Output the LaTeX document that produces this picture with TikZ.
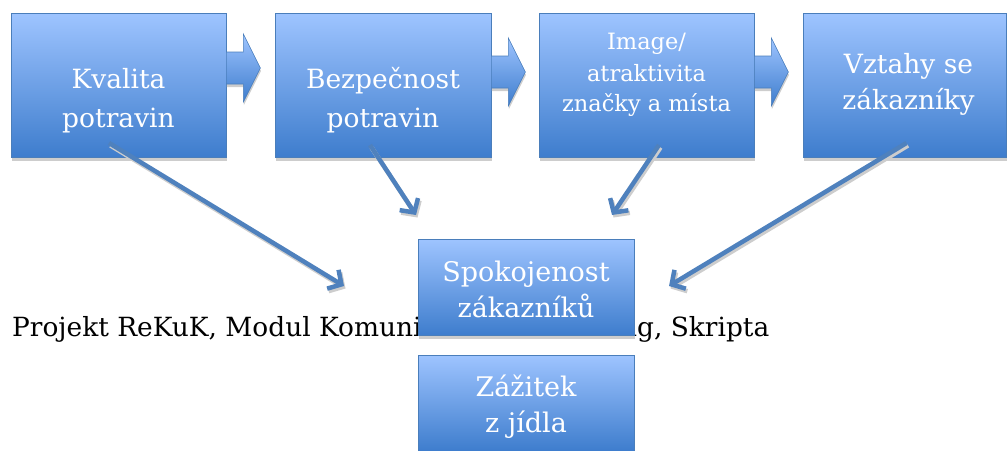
\documentclass[tikz,border=0pt]{standalone}
\usepackage{fontspec}
\setmainfont{DejaVu Serif}
\usetikzlibrary{arrows.meta,calc,shadows}
\definecolor{boxtop}{RGB}{158,196,255}
\definecolor{boxbot}{RGB}{62,125,205}
\definecolor{boxline}{RGB}{74,126,187}
\definecolor{arrowblue}{RGB}{79,129,189}
\definecolor{shadowgray}{RGB}{205,205,205}
\begin{document}
\begin{tikzpicture}[x=1pt,y=-1pt,
  box/.style={draw=boxline, line width=0.8pt, top color=boxtop, bottom color=boxbot,
    inner sep=0pt, minimum height=144pt,
    drop shadow={shadow xshift=1pt, shadow yshift=-3.5pt, fill=shadowgray, opacity=1}},
  smallbox/.style={box, minimum width=216pt, minimum height=96pt},
  ln/.style={text=white, anchor=base, inner sep=0pt, font=\fontsize{26.5}{26.5}\selectfont},
  lnsmall/.style={ln, font=\fontsize{22.5}{22.5}\selectfont},
  lnmid/.style={ln, font=\fontsize{27}{27}\selectfont},
  barrow/.style={draw=boxline, line width=0.6pt, top color=boxtop, bottom color=boxbot,
    drop shadow={shadow xshift=0.5pt, shadow yshift=-3pt, fill=shadowgray, opacity=1}},
  diag/.style={draw=arrowblue, line width=4.5pt, -{Straight Barb[length=10pt,width=22pt]}},
  diagshadow/.style={diag, draw=shadowgray, transform canvas={xshift=1.5pt,yshift=-2.5pt}},
  captext/.style={anchor=base west, inner sep=0pt, text=black, font=\fontsize{26.4}{26.4}\selectfont}
]
\useasboundingbox (0,0) rectangle (1008,450);

% caption text (partly hidden behind the box)
\node[captext] (cap) at (12,336) {Projekt ReKuK, Modul Komunikace a marketing, Skripta};

% top row boxes
\node[box, minimum width=215pt] (k1) at (118.5,85) {};
\node[box, minimum width=216pt] (k2) at (383,85) {};
\node[box, minimum width=215pt] (k3) at (646.5,85) {};
\node[box, minimum width=203pt] (k4) at (904.5,85) {};

% block arrows
\path[barrow] ($(k1.east)+(0,-17)$) ++(0,-16) -- ++(17,0) -- ++(0,-18) -- ++(17,34) -- ++(-17,34) -- ++(0,-18) -- ++(-17,0) -- cycle;
\path[barrow] ($(k2.east)+(0,-13)$) ++(0,-16) -- ++(17,0) -- ++(0,-18) -- ++(17,34) -- ++(-17,34) -- ++(0,-18) -- ++(-17,0) -- cycle;
\path[barrow] ($(k3.east)+(0,-13)$) ++(0,-16) -- ++(17,0) -- ++(0,-18) -- ++(17,34) -- ++(-17,34) -- ++(0,-18) -- ++(-17,0) -- cycle;

% texts in top boxes
\node[ln] (t1a) at ($(k1.north)+(0,76)$) {Kvalita};
\node[ln] (t1b) at ($(k1.north)+(0,115)$) {potravin};
\node[ln] (t2a) at ($(k2.north)+(0,76)$) {Bezpečnost};
\node[ln] (t2b) at ($(k2.north)+(0,115)$) {potravin};
\node[lnsmall] (t3a) at ($(k3.north)+(0,37)$) {Image/};
\node[lnsmall] (t3b) at ($(k3.north)+(0,69)$) {atraktivita};
\node[lnsmall] (t3c) at ($(k3.north)+(0,99)$) {značky a místa};
\node[ln] (t4a) at ($(k4.north)+(4,61)$) {Vztahy se};
\node[ln] (t4b) at ($(k4.north)+(4,97)$) {zákazníky};

% lower boxes
\node[smallbox] (s) at (526,287) {};
\node[lnmid] (sa) at ($(s.north)+(0,43)$) {Spokojenost};
\node[lnmid] (sb) at ($(s.north)+(0,79)$) {zákazníků};
\node[smallbox] (z) at (526,403) {};
\node[lnmid] (za) at ($(z.north)+(0,42)$) {Zážitek};
\node[lnmid] (zb) at ($(z.north)+(0,78)$) {z jídla};

% diagonal arrows
\coordinate (a1s) at ($(k1)+(-9.5,58)$);
\coordinate (a1e) at ($(s)+(-182,-1)$);
\coordinate (a2s) at ($(k2)+(-13,60)$);
\coordinate (a2e) at ($(s)+(-110,-72)$);
\coordinate (a3s) at ($(k3)+(12.5,60)$);
\coordinate (a3e) at ($(s)+(86,-72)$);
\coordinate (a4s) at ($(k4)+(2,58)$);
\coordinate (a4e) at ($(s)+(143,-1)$);
\foreach \p/\q in {a1s/a1e,a2s/a2e,a3s/a3e,a4s/a4e}{
  \draw[diagshadow] (\p) -- (\q);
}
\foreach \p/\q in {a1s/a1e,a2s/a2e,a3s/a3e,a4s/a4e}{
  \draw[diag] (\p) -- (\q);
}
\end{tikzpicture}
\end{document}
